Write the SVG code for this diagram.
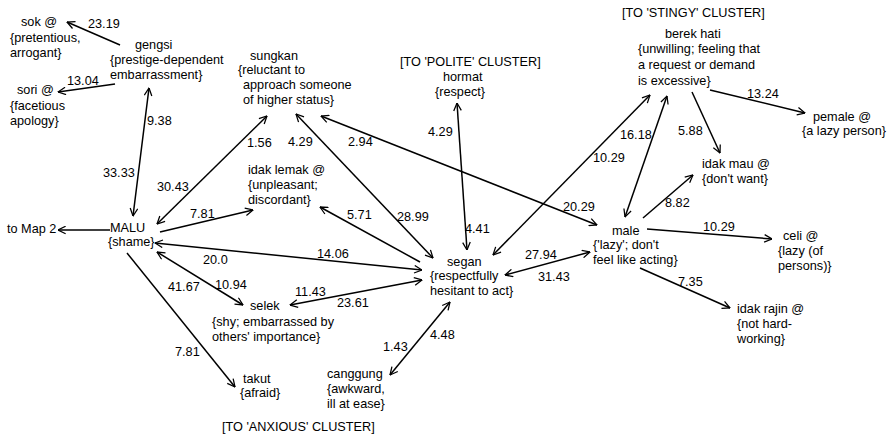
<svg xmlns="http://www.w3.org/2000/svg" width="890" height="436" viewBox="0 0 890 436">
<style>
text{font-family:"Liberation Sans",Arial,sans-serif;font-size:12.7px;fill:#000}
.e line{stroke:#000;stroke-width:1.5;fill:none}
</style>
<defs>
<marker id="ah" viewBox="0 0 10 10" refX="9.5" refY="5" markerWidth="9" markerHeight="9" markerUnits="userSpaceOnUse" orient="auto-start-reverse">
<path d="M1,0.8 L9.5,5 L1,9.2" fill="none" stroke="#000" stroke-width="1.4"/>
</marker>
</defs>
<rect width="890" height="436" fill="#fff"/>
<g id="connectors" class="e">
<line x1="120" y1="45" x2="67" y2="22" marker-end="url(#ah)"/>
<line x1="115" y1="84" x2="58" y2="92" marker-end="url(#ah)"/>
<line x1="133" y1="216" x2="149" y2="88" marker-start="url(#ah)" marker-end="url(#ah)"/>
<line x1="110" y1="230" x2="58" y2="230" marker-end="url(#ah)"/>
<line x1="157" y1="224" x2="267" y2="116" marker-start="url(#ah)" marker-end="url(#ah)"/>
<line x1="160" y1="232" x2="253" y2="210" marker-end="url(#ah)"/>
<line x1="155" y1="243" x2="422" y2="270" marker-start="url(#ah)" marker-end="url(#ah)"/>
<line x1="157" y1="252" x2="243" y2="305" marker-start="url(#ah)" marker-end="url(#ah)"/>
<line x1="127" y1="253" x2="235" y2="387" marker-end="url(#ah)"/>
<line x1="296" y1="114" x2="433" y2="258" marker-start="url(#ah)" marker-end="url(#ah)"/>
<line x1="321" y1="116" x2="597" y2="225" marker-start="url(#ah)" marker-end="url(#ah)"/>
<line x1="420" y1="262" x2="320" y2="207" marker-end="url(#ah)"/>
<line x1="467" y1="250" x2="457" y2="103" marker-start="url(#ah)" marker-end="url(#ah)"/>
<line x1="493" y1="255" x2="650" y2="95" marker-start="url(#ah)" marker-end="url(#ah)"/>
<line x1="625" y1="217" x2="667" y2="96" marker-start="url(#ah)" marker-end="url(#ah)"/>
<line x1="710" y1="90" x2="805" y2="113" marker-end="url(#ah)"/>
<line x1="692" y1="92" x2="720" y2="153" marker-end="url(#ah)"/>
<line x1="643" y1="218" x2="693" y2="175" marker-end="url(#ah)"/>
<line x1="505" y1="275" x2="590" y2="252" marker-start="url(#ah)" marker-end="url(#ah)"/>
<line x1="647" y1="229" x2="772" y2="239" marker-end="url(#ah)"/>
<line x1="640" y1="268" x2="730" y2="308" marker-end="url(#ah)"/>
<line x1="422" y1="280" x2="290" y2="305" marker-start="url(#ah)" marker-end="url(#ah)"/>
<line x1="450" y1="302" x2="390" y2="375" marker-start="url(#ah)" marker-end="url(#ah)"/>
</g>
<g id="labels">
<text x="88" y="28">23.19</text>
<text x="67" y="85">13.04</text>
<text x="147" y="125">9.38</text>
<text x="103" y="177">33.33</text>
<text x="157" y="191">30.43</text>
<text x="247" y="147">1.56</text>
<text x="288" y="146">4.29</text>
<text x="348" y="146">2.94</text>
<text x="428" y="136">4.29</text>
<text x="190" y="218">7.81</text>
<text x="347" y="219">5.71</text>
<text x="397" y="221">28.99</text>
<text x="203" y="264">20.0</text>
<text x="317" y="258">14.06</text>
<text x="168" y="291">41.67</text>
<text x="215" y="289">10.94</text>
<text x="295" y="296">11.43</text>
<text x="337" y="307">23.61</text>
<text x="175" y="356">7.81</text>
<text x="383" y="351">1.43</text>
<text x="430" y="339">4.48</text>
<text x="465" y="233">4.41</text>
<text x="593" y="162">10.29</text>
<text x="620" y="139">16.18</text>
<text x="563" y="211">20.29</text>
<text x="525" y="259">27.94</text>
<text x="538" y="281">31.43</text>
<text x="747" y="98">13.24</text>
<text x="678" y="135">5.88</text>
<text x="665" y="207">8.82</text>
<text x="703" y="231">10.29</text>
<text x="678" y="286">7.35</text>
</g>
<g id="sok"><text x="21" y="26">sok @</text><text x="10" y="42">{pretentious,</text><text x="10" y="57">arrogant}</text></g>
<g id="gengsi"><text x="135" y="49">gengsi</text><text x="110" y="64">{prestige-dependent</text><text x="110" y="79">embarrassment}</text></g>
<g id="sori"><text x="17" y="94">sori @</text><text x="10" y="110">{facetious</text><text x="10" y="125">apology}</text></g>
<g id="sungkan"><text x="250" y="60">sungkan</text><text x="238" y="74">{reluctant to</text><text x="243" y="89">approach someone</text><text x="243" y="104">of higher status}</text></g>
<g id="hormat"><text x="400" y="66">[TO 'POLITE' CLUSTER]</text><text x="443" y="81">hormat</text><text x="435" y="96">{respect}</text></g>
<g id="berek-hati"><text x="622" y="17">[TO 'STINGY' CLUSTER]</text><text x="665" y="38">berek hati</text><text x="638" y="53">{unwilling; feeling that</text><text x="638" y="69">a request or demand</text><text x="638" y="85">is excessive}</text></g>
<g id="pemale"><text x="813" y="121">pemale @</text><text x="802" y="135">{a lazy person}</text></g>
<g id="idak-mau"><text x="702" y="168">idak mau @</text><text x="702" y="183">{don't want}</text></g>
<g id="idak-lemak"><text x="248" y="174">idak lemak @</text><text x="248" y="189">{unpleasant;</text><text x="248" y="204">discordant}</text></g>
<g id="malu"><text x="110" y="232">MALU</text><text x="108" y="246">{shame}</text></g>
<g id="map2"><text x="7" y="233">to Map 2</text></g>
<g id="male"><text x="612" y="235">male</text><text x="593" y="249">{'lazy'; don't</text><text x="593" y="264">feel like acting}</text></g>
<g id="segan"><text x="447" y="266">segan</text><text x="430" y="280">{respectfully</text><text x="430" y="295">hesitant to act}</text></g>
<g id="celi"><text x="783" y="240">celi @</text><text x="778" y="255">{lazy (of</text><text x="778" y="270">persons)}</text></g>
<g id="idak-rajin"><text x="737" y="313">idak rajin @</text><text x="737" y="328">{not hard-</text><text x="737" y="343">working}</text></g>
<g id="selek"><text x="250" y="310">selek</text><text x="212" y="326">{shy; embarrassed by</text><text x="212" y="341">others' importance}</text></g>
<g id="takut"><text x="243" y="383">takut</text><text x="240" y="397">{afraid}</text></g>
<g id="canggung"><text x="327" y="378">canggung</text><text x="327" y="393">{awkward,</text><text x="327" y="408">ill at ease}</text><text x="222" y="431">[TO 'ANXIOUS' CLUSTER]</text></g>
</svg>
